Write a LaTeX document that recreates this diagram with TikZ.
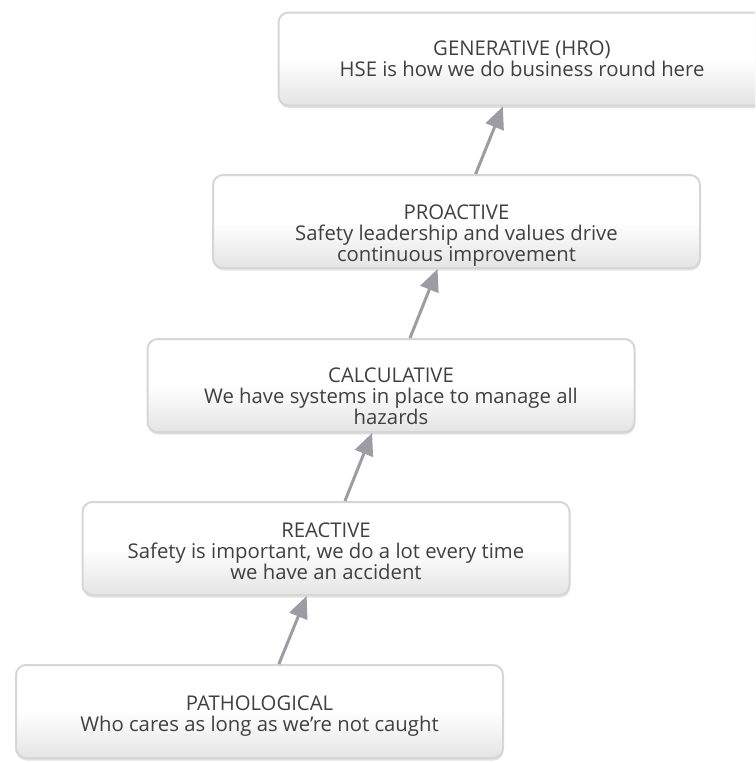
\documentclass[tikz,border=0pt]{standalone}
\usepackage{fontspec}
\setmainfont{Open Sans}
\usetikzlibrary{arrows.meta,shadows}
\definecolor{boxborder}{HTML}{D6D6D6}
\definecolor{boxbottom}{HTML}{E4E4E4}
\definecolor{arrowgray}{HTML}{9B9CA4}
\definecolor{txt}{HTML}{404040}
\begin{document}
\begin{tikzpicture}[x=1pt,y=-1pt,
  stage/.style={draw=boxborder, line width=2pt, rounded corners=10pt,
    minimum width=487pt, minimum height=93pt, inner sep=0pt,
    top color=white, bottom color=boxbottom, middle color=white,
    drop shadow={shadow xshift=0.5pt, shadow yshift=-2.5pt, opacity=0.25, fill=black!45}},
  stagetext/.style={anchor=north, inner sep=0pt, align=center, text=txt,
    font=\fontsize{20.3}{21}\selectfont},
  stagearrow/.style={draw=arrowgray, line width=3pt, -{Triangle[length=22pt,width=19pt]}}]
\useasboundingbox (0,0) rectangle (755,763);
\clip (0,0) rectangle (755,763);
\node[stage] (gen) at (522,59) {};
\node[stage] (pro) at (456.5,221.5) {};
\node[stage] (cal) at (391,385.5) {};
\node[stage] (rea) at (326,548.5) {};
\node[stage] (pat) at (259.5,711.5) {};
\node[stagetext] (gent) at (522,40.5) {\rule{0pt}{14pt}GENERATIVE (HRO)\\HSE is how we do business round here};
\node[stagetext] (prot) at (456.5,205) {\rule{0pt}{14pt}PROACTIVE\\Safety leadership and values drive\\continuous improvement};
\node[stagetext] (calt) at (391,367.7) {\rule{0pt}{14pt}CALCULATIVE\\We have systems in place to manage all\\hazards};
\node[stagetext] (reat) at (326,522.7) {\rule{0pt}{14pt}REACTIVE\\Safety is important, we do a lot every time\\we have an accident};
\node[stagetext] (patt) at (259.5,695.5) {\rule{0pt}{14pt}PATHOLOGICAL\\Who cares as long as we're not caught};
\draw[stagearrow] (pat) -- (rea);
\draw[stagearrow] (rea) -- (cal);
\draw[stagearrow] (cal) -- (pro);
\draw[stagearrow] (pro) -- (gen);
\end{tikzpicture}
\end{document}
